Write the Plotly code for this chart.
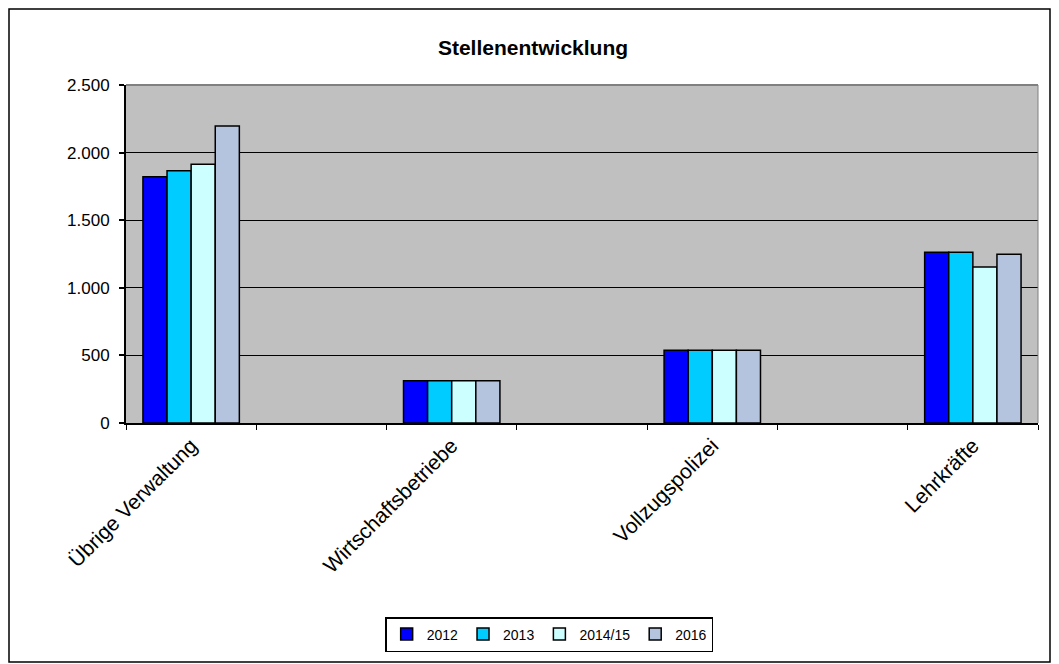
import plotly.graph_objects as go

categories = ["Übrige Verwaltung", "Wirtschaftsbetriebe", "Vollzugspolizei", "Lehrkräfte"]
years = ["2012", "2013", "2014/15", "2016"]
values = {
    "2012": [1822, 313, 538, 1263],
    "2013": [1866, 313, 538, 1263],
    "2014/15": [1913, 313, 538, 1154],
    "2016": [2197, 313, 538, 1248],
}
colors = ["#0000FF", "#00CCFF", "#CCFFFF", "#B4C4DE"]

# categories sit on every second slot, empty slots in between
xpos = [i * 2 for i in range(len(categories))]

fig = go.Figure()
for year, col in zip(years, colors):
    fig.add_trace(go.Bar(
        x=xpos,
        y=values[year],
        name=year,
        marker=dict(color=col, line=dict(color="black", width=1.5)),
    ))

# figure is placed at 8px page offset (body margin)
W, H = 1043, 656
L, R, T, B = 118, 13, 77, 241
pw, ph = W - L - R, H - T - B

font = "Liberation Sans, Arial, sans-serif"
fig.update_layout(
    width=W, height=H,
    margin=dict(l=L, r=R, t=T, b=B),
    paper_bgcolor="white",
    plot_bgcolor="#C0C0C0",
    separators=",.",
    barmode="group",
    bargap=0.63,
    bargroupgap=0,
    font=dict(family=font, size=17, color="black"),
    title=dict(text="<b>Stellenentwicklung</b>", x=525 / W, xanchor="center",
               y=1 - 40 / H, yanchor="middle", font=dict(size=21)),
    showlegend=True,
    legend=dict(orientation="h", x=0.464, xanchor="center", y=-0.574, yanchor="top",
                bordercolor="black", borderwidth=1.5, font=dict(size=14),
                itemwidth=30, traceorder="normal"),
    xaxis=dict(
        range=[-0.5, 6.5],
        tickmode="array", tickvals=xpos, ticktext=categories,
        tickangle=-45, ticks="", showgrid=False, zeroline=False,
        showline=True, linecolor="black", linewidth=2,
        tickfont=dict(size=21),
        minor=dict(tickmode="linear", tick0=0.5, dtick=1, ticks="outside",
                   ticklen=5, tickcolor="black", tickwidth=1, showgrid=False),
    ),
    yaxis=dict(
        range=[0, 2500], tickvals=[0, 500, 1000, 1500, 2000, 2500],
        tickformat=",d", ticks="outside", ticklen=5, tickcolor="black", tickwidth=2,
        ticklabelstandoff=6,
        showgrid=True, gridcolor="black", gridwidth=1, zeroline=False,
        showline=True, linecolor="black", linewidth=2,
    ),
    shapes=[
        # outer chart frame
        dict(type="rect", xref="paper", yref="paper",
             x0=(1 - L) / pw, x1=(W - 1 - L) / pw,
             y0=(T + ph - (H - 2)) / ph, y1=(T + ph - 1) / ph,
             line=dict(color="black", width=1.5), layer="below"),
        # top and right border of the plot area
        dict(type="line", xref="paper", yref="paper", x0=0, x1=1, y0=1, y1=1,
             line=dict(color="#808080", width=2)),
        dict(type="line", xref="paper", yref="paper", x0=1, x1=1, y0=0, y1=1,
             line=dict(color="#808080", width=1)),
    ],
)

fig.write_html("out.html")
